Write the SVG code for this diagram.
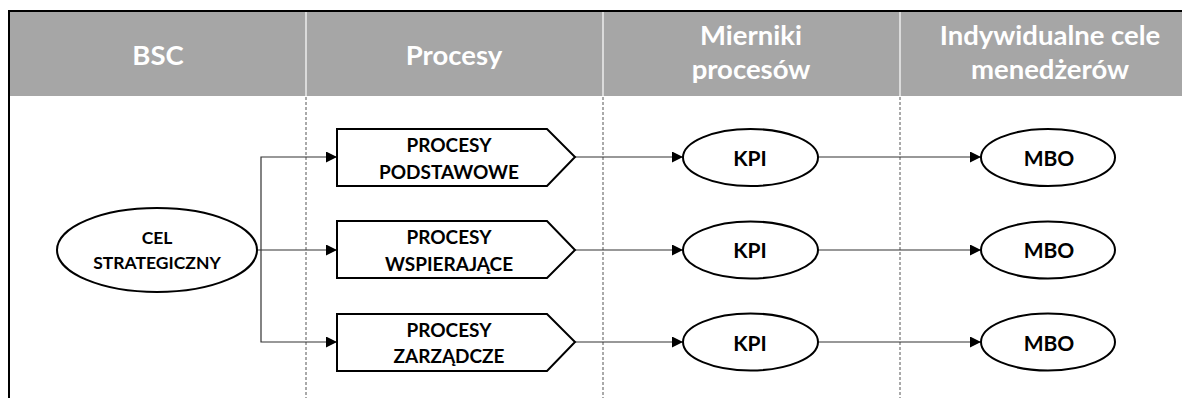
<svg xmlns="http://www.w3.org/2000/svg" width="1182" height="398" viewBox="0 0 1182 398">
<style>
.hdr{font-family:Lato,"Liberation Sans",sans-serif;font-weight:bold;font-size:27.5px;fill:#ffffff;text-anchor:middle}
.t{font-family:Lato,"Liberation Sans",sans-serif;font-weight:bold;fill:#000;text-anchor:middle}
.s17{font-size:17.5px}
.s18{font-size:19px}
.s21{font-size:21px}
.shape{fill:#fff;stroke:#000;stroke-width:2}
.con{fill:none;stroke:#333;stroke-width:1.2}
.div{stroke:#555;stroke-width:1;stroke-dasharray:3,2}
</style>
<defs>
<marker id="arr" markerUnits="userSpaceOnUse" markerWidth="11" markerHeight="11" refX="11" refY="5.5" orient="auto">
<path d="M0,0 L11,5.5 L0,11 Z" fill="#000"/>
</marker>
</defs>
<rect x="0" y="0" width="1182" height="398" fill="#fff"/>
<g id="header">
<rect x="10" y="12" width="1172" height="84" fill="#a6a6a6"/>
<line x1="306" y1="12" x2="306" y2="96" stroke="#fff" stroke-width="1.2"/>
<line x1="603" y1="12" x2="603" y2="96" stroke="#fff" stroke-width="1.2"/>
<line x1="900" y1="12" x2="900" y2="96" stroke="#fff" stroke-width="1.2"/>
<text class="hdr" x="158" y="65">BSC</text>
<text class="hdr" x="454" y="65">Procesy</text>
<text class="hdr" x="751" y="45">Mierniki</text>
<text class="hdr" x="751" y="79">procesów</text>
<text class="hdr" x="1050" y="45">Indywidualne cele</text>
<text class="hdr" x="1050" y="79">menedżerów</text>
</g>
<g id="frame">
<line x1="9" y1="11" x2="1182" y2="11" stroke="#000" stroke-width="2"/>
<line x1="9" y1="10" x2="9" y2="398" stroke="#000" stroke-width="2"/>
<line class="div" x1="306" y1="97" x2="306" y2="398"/>
<line class="div" x1="603" y1="97" x2="603" y2="398"/>
<line class="div" x1="900" y1="97" x2="900" y2="398"/>
</g>
<g id="connectors">
<path class="con" d="M257,250 H337" marker-end="url(#arr)"/>
<path class="con" d="M261,250 V157 H337" marker-end="url(#arr)"/>
<path class="con" d="M261,250 V342 H337" marker-end="url(#arr)"/>
<path class="con" d="M575,157 H683" marker-end="url(#arr)"/>
<path class="con" d="M575,250 H683" marker-end="url(#arr)"/>
<path class="con" d="M575,342 H683" marker-end="url(#arr)"/>
<path class="con" d="M818,157 H981" marker-end="url(#arr)"/>
<path class="con" d="M818,250 H981" marker-end="url(#arr)"/>
<path class="con" d="M818,342 H981" marker-end="url(#arr)"/>
</g>
<g id="cel">
<ellipse class="shape" cx="157" cy="250" rx="100" ry="42"/>
<text class="t s17" x="157" y="244">CEL</text>
<text class="t s17" x="157" y="269">STRATEGICZNY</text>
</g>
<g id="proc1">
<path class="shape" d="M337,129 H547 L575,157 L547,186 H337 Z"/>
<text class="t s18" x="449" y="152">PROCESY</text>
<text class="t s18" x="449" y="179">PODSTAWOWE</text>
</g>
<g id="proc2">
<path class="shape" d="M337,221 H547 L575,250 L547,278 H337 Z"/>
<text class="t s18" x="449" y="244">PROCESY</text>
<text class="t s18" x="449" y="271">WSPIERAJĄCE</text>
</g>
<g id="proc3">
<path class="shape" d="M337,314 H547 L575,342 L547,371 H337 Z"/>
<text class="t s18" x="449" y="337">PROCESY</text>
<text class="t s18" x="449" y="363">ZARZĄDCZE</text>
</g>
<g id="kpi1"><ellipse class="shape" cx="750.5" cy="157.5" rx="67.5" ry="28.5"/><text class="t s21" x="750" y="166">KPI</text></g>
<g id="kpi2"><ellipse class="shape" cx="750.5" cy="250" rx="67.5" ry="28.5"/><text class="t s21" x="750" y="258">KPI</text></g>
<g id="kpi3"><ellipse class="shape" cx="750.5" cy="342" rx="67.5" ry="28.5"/><text class="t s21" x="750" y="351">KPI</text></g>
<g id="mbo1"><ellipse class="shape" cx="1048" cy="157.5" rx="67" ry="28.5"/><text class="t s21" x="1049" y="166">MBO</text></g>
<g id="mbo2"><ellipse class="shape" cx="1048" cy="250" rx="67" ry="28.5"/><text class="t s21" x="1049" y="258">MBO</text></g>
<g id="mbo3"><ellipse class="shape" cx="1048" cy="342" rx="67" ry="28.5"/><text class="t s21" x="1049" y="351">MBO</text></g>
</svg>
